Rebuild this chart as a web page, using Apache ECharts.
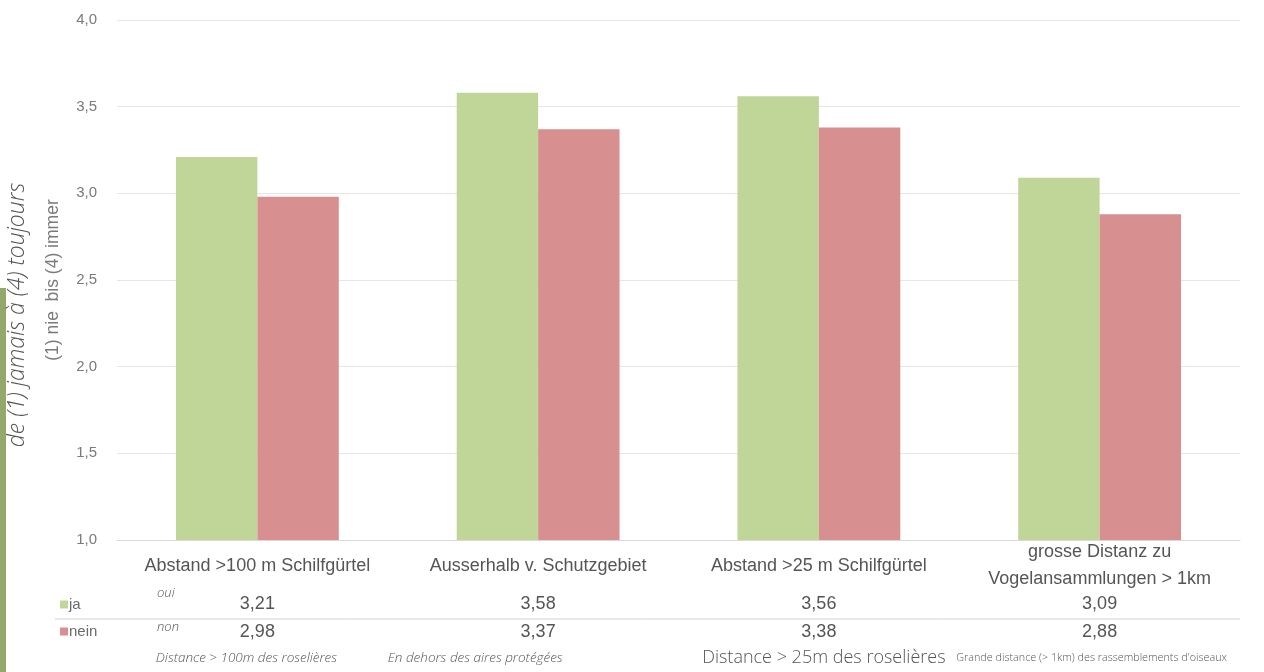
<!DOCTYPE html>
<html><head><meta charset="utf-8">
<script src="https://cdn.jsdelivr.net/npm/echarts@6/dist/echarts.min.js"></script>
<style>html,body{margin:0;padding:0;background:#fff}#c{width:1264px;height:672px}</style>
</head><body><div id="c"></div>
<script>
const categories = ["Abstand >100 m Schilfgürtel", "Ausserhalb v. Schutzgebiet", "Abstand >25 m Schilfgürtel", "grosse Distanz zu\nVogelansammlungen > 1km"];
const frenchLabels = ["Distance > 100m des roselières", "En dehors des aires protégées", "Distance > 25m des roselières", "Grande distance (> 1km) des rassemblements d'oiseaux"];
const jaValues = [3.21, 3.58, 3.56, 3.09];
const neinValues = [2.98, 3.37, 3.38, 2.88];
const seriesNames = ["ja", "nein"];
const yTicks = { min: 1, max: 4, interval: 0.5 };

const fmt = v => v.toFixed(2).replace('.', ',');
const sans = "'Liberation Sans', Arial, sans-serif";
const fr = "'Open Sans', sans-serif";

const chart = echarts.init(document.getElementById('c'), null, { renderer: 'canvas' });
const hiddenAxis = { axisLine: { show: false }, axisTick: { show: false }, splitLine: { show: false } };
const frStyles = ['a', 'b', 'c', 's'];

chart.setOption({
  animation: false,
  grid: { left: 117, right: 24, top: 20, bottom: 132 },
  legend: {
    orient: 'vertical', left: 60, top: 597, itemGap: 12, padding: 0,
    itemWidth: 8, itemHeight: 8, icon: 'rect',
    textStyle: { color: '#6b6b6b', fontSize: 15, fontFamily: sans, padding: [0, 0, 0, -4] },
    data: seriesNames
  },
  yAxis: {
    type: 'value', min: yTicks.min, max: yTicks.max, interval: yTicks.interval,
    name: '(1) nie  bis (4) immer', nameLocation: 'middle', nameGap: 55,
    nameTextStyle: { color: '#7a7a7a', fontSize: 17.5, fontFamily: sans },
    axisLabel: { formatter: v => v.toFixed(1).replace('.', ','), color: '#7a7a7a', fontSize: 15, fontFamily: sans, margin: 20 },
    axisLine: { show: false }, axisTick: { show: false },
    splitLine: { lineStyle: { color: '#e6e6e6', width: 1 } }
  },
  xAxis: [
    {
      type: 'category', data: categories,
      axisLine: { lineStyle: { color: '#d9d9d9' } }, axisTick: { show: false },
      axisLabel: { color: '#555', fontSize: 18, fontFamily: sans, lineHeight: 27, margin: 26, verticalAlign: 'middle', interval: 0 }
    },
    Object.assign({
      type: 'category', data: jaValues.map(fmt), position: 'bottom', offset: 64,
      axisLabel: { color: '#555', fontSize: 18, fontFamily: sans, margin: 0, verticalAlign: 'middle', interval: 0 }
    }, hiddenAxis),
    Object.assign({
      type: 'category', data: neinValues.map(fmt), position: 'bottom', offset: 92,
      axisLabel: { color: '#555', fontSize: 18, fontFamily: sans, margin: 0, verticalAlign: 'middle', interval: 0 }
    }, hiddenAxis),
    Object.assign({
      type: 'category', data: frenchLabels, position: 'bottom', offset: 118,
      axisLabel: {
        margin: 0, verticalAlign: 'middle', interval: 0,
        formatter: (v, i) => '{' + frStyles[i] + '|' + v + '}',
        rich: {
          a: { fontSize: 13.5, fontStyle: 'italic', fontFamily: fr, color: '#555', fontWeight: 300, padding: [0, 22, 0, 0] },
          b: { fontSize: 13.5, fontStyle: 'italic', fontFamily: fr, color: '#555', fontWeight: 300, padding: [0, 126, 0, 0] },
          c: { fontSize: 18, fontStyle: 'normal', fontFamily: fr, color: '#555', fontWeight: 300, padding: [0, 0, 0, 10] },
          s: { fontSize: 10.8, fontStyle: 'normal', fontFamily: fr, color: '#555', fontWeight: 300, padding: [0, 16, 0, 0] }
        }
      }
    }, hiddenAxis)
  ],
  graphic: [
    { type: 'rect', left: 0, top: 288, shape: { width: 6, height: 384 }, style: { fill: '#93a86a' } },
    { type: 'line', shape: { x1: 55, y1: 619, x2: 1240, y2: 619 }, style: { stroke: '#d4d4d4', lineWidth: 1 } },
    { type: 'text', x: 157, y: 587, style: { text: 'oui', fill: '#555', font: "italic 300 13px 'Open Sans'" } },
    { type: 'text', x: 157, y: 621, style: { text: 'non', fill: '#555', font: "italic 300 13px 'Open Sans'" } },
    { type: 'text', x: 17, y: 315, rotation: Math.PI / 2,
      style: { text: 'de (1) jamais à (4) toujours', fill: '#555', font: "italic 300 23px 'Open Sans'", align: 'center', verticalAlign: 'middle' } }
  ],
  series: [
    { name: 'ja', type: 'bar', data: jaValues, itemStyle: { color: '#bfd698' }, barGap: '0%', barCategoryGap: '42%' },
    { name: 'nein', type: 'bar', data: neinValues, itemStyle: { color: '#d88f8f' } }
  ]
});
</script></body></html>
